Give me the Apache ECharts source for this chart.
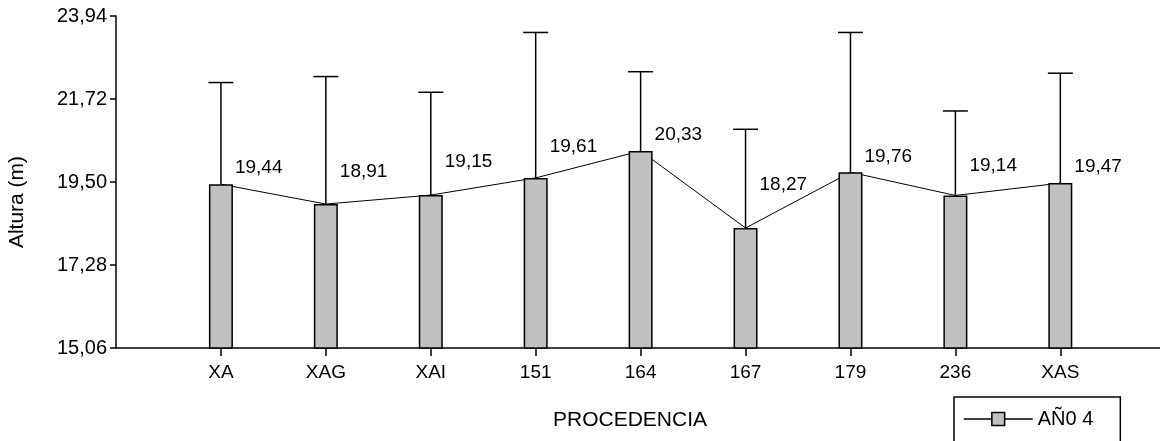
<!DOCTYPE html>
<html>
<head>
<meta charset="utf-8">
<title>Altura por procedencia</title>
<script src="https://cdn.jsdelivr.net/npm/echarts@6/dist/echarts.min.js"></script>
<style>
  html, body { margin: 0; padding: 0; background: #fff; }
  #chart { width: 1160px; height: 441px; }
</style>
</head>
<body>
<div id="chart"></div>
<script>
// datos
const procedencias = ['XA', 'XAG', 'XAI', '151', '164', '167', '179', '236', 'XAS']
const alturaMedia = [19.44, 18.91, 19.15, 19.61, 20.33, 18.27, 19.76, 19.14, 19.47]
const desvio = [2.72, 3.41, 2.75, 3.89, 2.12, 2.64, 3.74, 2.26, 2.94]
const yTicks = [15.06, 17.28, 19.50, 21.72, 23.94]
const serieNombre = 'AÑ0 4'

// cuanto sube cada etiqueta por encima de la barra (px)
const labelRise = [16, 32, 33, 31, 16, 43, 16, 30, 16]

const font = 'Liberation Sans, Arial, sans-serif'
const fmt = v => v.toFixed(2).replace('.', ',')

function initChart() {
  const chart = echarts.init(document.getElementById('chart'), null, { renderer: 'canvas' })
  const xs = procedencias.map((p, i) => i + 1)

  const option = {
    animation: false,
    grid: { left: 116, right: 0, top: 16, bottom: 93 },
    legend: {
      left: 954,
      top: 397,
      padding: [12, 27, 30, 9],
      borderColor: '#000',
      borderWidth: 1.5,
      itemWidth: 69,
      itemHeight: 16,
      data: [serieNombre],
      textStyle: { fontFamily: font, fontSize: 20, color: '#000' },
      itemStyle: { color: '#c0c0c0', borderColor: '#000', borderWidth: 1.5 },
      lineStyle: { color: '#000', width: 1.5 }
    },
    graphic: [
      {
        type: 'text', x: 17, y: 202, rotation: Math.PI / 2,
        style: { text: 'Altura (m)', fontFamily: font, fontSize: 21, fill: '#000', textAlign: 'center', textVerticalAlign: 'middle' }
      },
      {
        type: 'text', x: 553, y: 420,
        style: { text: 'PROCEDENCIA', fontFamily: font, fontSize: 21, fill: '#000', textAlign: 'left', textVerticalAlign: 'middle' }
      }
    ],
    xAxis: {
      type: 'value',
      min: 0,
      max: 9.95,
      splitLine: { show: false },
      axisLine: { lineStyle: { color: '#000', width: 1.5 } },
      axisTick: { length: 8, customValues: xs, lineStyle: { color: '#000', width: 1.5 } },
      axisLabel: {
        customValues: xs,
        margin: 15,
        fontFamily: font,
        fontSize: 19,
        color: '#000',
        formatter: v => procedencias[Math.round(v) - 1] || ''
      }
    },
    yAxis: {
      type: 'value',
      min: yTicks[0],
      max: yTicks[yTicks.length - 1],
      splitLine: { show: false },
      axisLine: { show: true, lineStyle: { color: '#000', width: 1.5 } },
      axisTick: { show: true, length: 6, customValues: yTicks, lineStyle: { color: '#000', width: 1.5 } },
      axisLabel: {
        customValues: yTicks,
        margin: 9,
        fontFamily: font,
        fontSize: 20,
        color: '#000',
        formatter: v => fmt(v)
      }
    },
    series: [
      {
        // linea que une las medias (queda detras de las barras)
        name: serieNombre,
        type: 'line',
        z: 1,
        data: alturaMedia.map((v, i) => [xs[i], v]),
        symbol: 'rect',
        symbolSize: 13,
        showSymbol: false,
        lineStyle: { color: '#000', width: 1 },
        itemStyle: { color: '#c0c0c0', borderColor: '#000', borderWidth: 1.5 }
      },
      {
        type: 'bar',
        z: 2,
        barWidth: 24,
        data: alturaMedia.map((v, i) => ({
          value: [xs[i], v],
          label: { offset: [0, -labelRise[i]] }
        })),
        itemStyle: { color: '#c0c0c0', borderColor: '#000', borderWidth: 1.5 },
        label: {
          show: true,
          position: [26, 0],
          align: 'left',
          verticalAlign: 'middle',
          fontFamily: font,
          fontSize: 19,
          color: '#000',
          formatter: p => fmt(p.value[1])
        }
      },
      {
        // barras de error (solo hacia arriba)
        type: 'custom',
        z: 3,
        data: alturaMedia.map((v, i) => [xs[i], v, v + desvio[i]]),
        renderItem(params, api) {
          const p0 = api.coord([api.value(0), api.value(1)])
          const p1 = api.coord([api.value(0), api.value(2)])
          const st = { stroke: '#000', lineWidth: 1.5 }
          return {
            type: 'group',
            children: [
              { type: 'line', shape: { x1: p0[0], y1: p0[1], x2: p1[0], y2: p1[1] }, style: st },
              { type: 'line', shape: { x1: p1[0] - 12.5, y1: p1[1], x2: p1[0] + 12.5, y2: p1[1] }, style: st }
            ]
          }
        }
      }
    ]
  }
  chart.setOption(option)
}

initChart()
</script>
</body>
</html>
